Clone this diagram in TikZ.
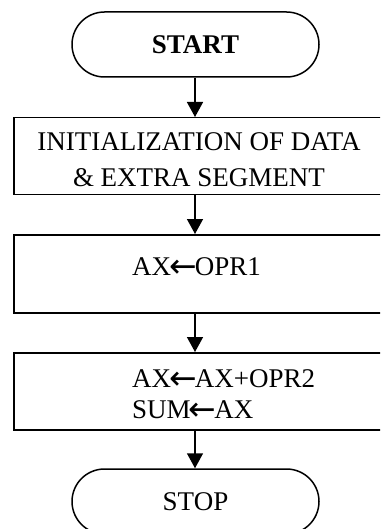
\documentclass[tikz,border=0pt]{standalone}
\usepackage{fontspec}
\setmainfont{Liberation Serif}
\newfontfamily\arrowfont{DejaVu Sans}
\newcommand{\larr}{{\arrowfont\fontsize{33}{33}\selectfont\kern-2pt\raisebox{-2.5pt}{←}\kern-2pt}}
\usetikzlibrary{arrows.meta,shapes.misc}
\begin{document}
\begin{tikzpicture}[x=1pt,y=-1pt,
  every node/.style={font=\fontsize{27}{33}\selectfont},
  term/.style={draw,line width=1.5pt,rounded rectangle,minimum width=247pt,minimum height=65pt,inner sep=0pt},
  proc/.style={draw,line width=1.5pt,rectangle,minimum width=372pt,anchor=north west,inner sep=0pt},
  flow/.style={line width=1.5pt,-{Triangle[length=15pt,width=16pt]}},
  txt/.style={inner sep=0pt}]
\clip (0,0) rectangle (380,529);
\fill[white] (0,0) rectangle (380,529);
\node[term] (start) at (195.5,44.5) {\textbf{START}};
\node[proc,minimum height=77pt] (init) at (13,117) {};
\node[txt,align=center,font=\fontsize{27}{36}\selectfont] (initt) at (199,160) {INITIALIZATION OF DATA\\\& EXTRA SEGMENT};
\node[proc,minimum height=78pt] (load) at (13,234) {};
\node[txt,anchor=base west] (loadt) at (132,275) {AX\larr OPR1};
\node[proc,minimum height=77pt] (add) at (13,352) {};
\node[txt,anchor=base west,align=left,font=\fontsize{27}{31}\selectfont] (addt) at (132,418) {AX\larr AX+OPR2\\SUM\larr AX};
\node[term] (stop) at (195.5,501.5) {STOP};
\draw[flow] (start.south -| 195,0) -- (init.north -| 195,0);
\draw[flow] (init.south -| 195,0) -- (load.north -| 195,0);
\draw[flow] (load.south -| 195,0) -- (add.north -| 195,0);
\draw[flow] (add.south -| 195,0) -- (stop.north -| 195,0);
\end{tikzpicture}
\end{document}
